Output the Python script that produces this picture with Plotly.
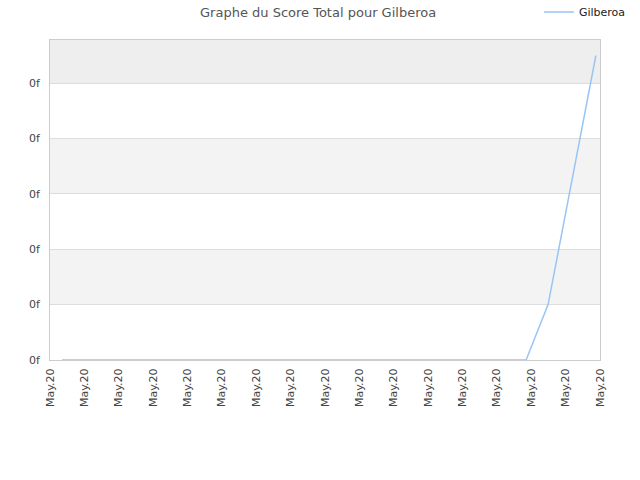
import plotly.graph_objects as go

# x positions in tick units (17 ticks, all labelled "May.20")
tick_labels = ['May.20'] * 17
score_x = [0.35, 2.0, 4.0, 6.0, 8.0, 10.0, 12.0, 13.85, 14.49, 15.88]
score_y = [0, 0, 0, 0, 0, 0, 0, 0, 1.0, 5.5]
y_ticks = [0, 1, 2, 3, 4, 5]
y_labels = ['0f'] * 6

y_top = 5.78

fig = go.Figure()
fig.add_trace(go.Scatter(
    x=score_x, y=score_y, mode='lines', name='Gilberoa',
    line=dict(color='#99c5f5', width=1.5),
))

# alternating background bands
shapes = []
for y0, y1, col in [(1, 2, '#f3f3f3'), (3, 4, '#f3f3f3'), (5, y_top, '#eeeeee')]:
    shapes.append(dict(type='rect', xref='paper', yref='y', x0=0, x1=1, y0=y0, y1=y1,
                       fillcolor=col, line=dict(width=0), layer='below'))

fig.update_layout(
    width=640, height=480,
    margin=dict(l=50, r=40, t=40, b=120, autoexpand=False),
    paper_bgcolor='white', plot_bgcolor='white',
    font=dict(family='DejaVu Sans', size=11, color='#444444'),
    title=dict(text='Graphe du Score Total pour Gilberoa', x=0.497, xanchor='center',
               y=0.975, yanchor='middle', font=dict(size=13, color='#555555')),
    showlegend=True,
    legend=dict(x=0.889, xanchor='left', y=1.0875, yanchor='middle', bgcolor='rgba(0,0,0,0)',
                font=dict(size=11, color='#222222'), itemwidth=30),
    shapes=shapes,
    xaxis=dict(range=[0, 16], tickmode='array', tickvals=list(range(17)), ticktext=tick_labels,
               tickangle=-90, showgrid=False, zeroline=False, showline=True, mirror=True,
               linecolor='#cccccc', linewidth=1, ticks='', automargin=False,
               ticklabelstandoff=3),
    yaxis=dict(range=[0, y_top], tickmode='array', tickvals=y_ticks, ticktext=y_labels,
               showgrid=True, gridcolor='#dddddd', zeroline=False, showline=True, mirror=True,
               linecolor='#cccccc', linewidth=1, ticks='', automargin=False,
               ticklabelstandoff=7),
)

# drop the default 8px body margin so the figure fills the window
fig.write_html('out.html', config={'displayModeBar': False},
               post_script="document.body.style.margin='0';")
